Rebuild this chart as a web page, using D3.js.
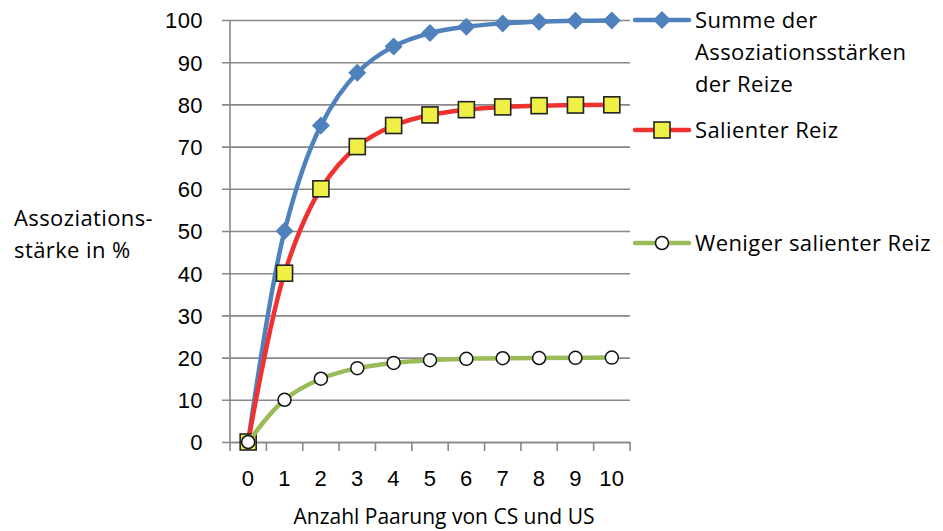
<!DOCTYPE html>
<html>
<head>
<meta charset="utf-8">
<script src="https://cdn.jsdelivr.net/npm/d3@7"></script>
<style>
  html, body { margin: 0; padding: 0; background: #fff; }
  svg { display: block; font-family: "Open Sans", Lato, sans-serif; letter-spacing: 0.4px; }
</style>
</head>
<body>
<svg id="chart" width="943" height="531"></svg>
<script>
// Number of CS–US pairings
const pairings = [0, 1, 2, 3, 4, 5, 6, 7, 8, 9, 10];
// Associative strength in % per series
const summeValues   = [0, 50, 75, 87.5, 93.75, 96.9, 98.4, 99.2, 99.6, 99.8, 99.9];
const salientValues = [0, 40, 60, 70, 75, 77.5, 78.75, 79.4, 79.7, 79.85, 79.9];
const wenigerValues = [0, 10, 15, 17.5, 18.75, 19.4, 19.7, 19.85, 19.9, 19.95, 20];
const yTicks = [0, 10, 20, 30, 40, 50, 60, 70, 80, 90, 100];
const seriesNames = ["Summe der Assoziationsstärken der Reize", "Salienter Reiz", "Weniger salienter Reiz"];

const FONT = 22;

const series = [
  { name: seriesNames[0], values: summeValues,   color: "#4F81BD", marker: "diamond" },
  { name: seriesNames[1], values: salientValues, color: "#F0312F", marker: "square" },
  { name: seriesNames[2], values: wenigerValues, color: "#9BBB59", marker: "circle" }
];

const svg = d3.select("#chart");
const plot = { left: 230, right: 630, top: 20, bottom: 442 };

const x = d3.scaleBand().domain(pairings).range([plot.left, plot.right]);
const y = d3.scaleLinear().domain([0, 100]).range([plot.bottom, plot.top]);
const cx = d => x(d) + x.bandwidth() / 2;

// horizontal gridlines with outside ticks
const yAxis = d3.axisLeft(y).tickValues(yTicks).tickSize(-(plot.right - plot.left)).tickPadding(27);
const gy = svg.append("g").attr("transform", `translate(${plot.left},0)`).call(yAxis);
gy.select(".domain").remove();
gy.selectAll(".tick line")
  .attr("x1", -8)
  .attr("stroke", "#888").attr("stroke-width", 1.6);
gy.selectAll(".tick text")
  .attr("font-size", FONT).attr("fill", "#000").attr("dy", "0.36em");

// vertical axis line
svg.append("line")
  .attr("x1", plot.left).attr("x2", plot.left)
  .attr("y1", plot.top).attr("y2", plot.bottom)
  .attr("stroke", "#888").attr("stroke-width", 1.6);

// category axis
const xAxis = d3.axisBottom(x).tickSize(0).tickPadding(36);
const gx = svg.append("g").attr("transform", `translate(0,${plot.bottom})`).call(xAxis);
gx.select(".domain").attr("stroke", "#888").attr("stroke-width", 1.6);
gx.selectAll(".tick text").attr("font-size", FONT).attr("fill", "#000").attr("dy", "0.36em");
// tick marks between categories
const boundaries = d3.range(pairings.length + 1).map(i => plot.left + i * x.step());
svg.append("g").selectAll("line").data(boundaries).join("line")
  .attr("x1", d => d).attr("x2", d => d)
  .attr("y1", plot.bottom).attr("y2", plot.bottom + 9)
  .attr("stroke", "#888").attr("stroke-width", 1.6);

// axis titles
svg.append("text")
  .attr("x", 444).attr("y", 524)
  .attr("text-anchor", "middle").attr("font-size", 21)
  .style("letter-spacing", "0px")
  .text("Anzahl Paarung von CS und US");
const yt = svg.append("text").attr("font-size", FONT);
yt.append("tspan").attr("x", 14).attr("y", 218).attr("dy", "0.36em").text("Assoziations-");
yt.append("tspan").attr("x", 14).attr("y", 250).attr("dy", "0.36em").text("stärke in %");

// marker drawing
function drawMarker(g, type, color) {
  if (type === "diamond") {
    g.append("path").attr("d", "M0,-9L9,0L0,9L-9,0Z").attr("fill", color);
  } else if (type === "square") {
    g.append("rect").attr("x", -8).attr("y", -8).attr("width", 16).attr("height", 16)
      .attr("fill", "#EFEF45").attr("stroke", "#222").attr("stroke-width", 1.6);
  } else {
    g.append("circle").attr("r", 6.5).attr("fill", "#fff").attr("stroke", "#111").attr("stroke-width", 1.5);
  }
}

const line = d3.line()
  .x((d, i) => cx(pairings[i]))
  .y(d => y(d))
  .curve(d3.curveCatmullRom.alpha(0.5));

series.forEach(s => {
  const g = svg.append("g");
  g.append("path").datum(s.values)
    .attr("d", line).attr("fill", "none")
    .attr("stroke", s.color).attr("stroke-width", 4.5)
    .attr("stroke-linejoin", "round").attr("stroke-linecap", "round");
  s.values.forEach((v, i) => {
    const m = g.append("g").attr("transform", `translate(${cx(pairings[i])},${y(v)})`);
    drawMarker(m, s.marker, s.color);
  });
});

// legend
const legendY = [20, 130, 243];
const legendText = [["Summe der", "Assoziationsstärken", "der Reize"], ["Salienter Reiz"], ["Weniger salienter Reiz"]];
series.forEach((s, i) => {
  const g = svg.append("g").attr("transform", `translate(0,${legendY[i]})`);
  g.append("line").attr("x1", 635).attr("x2", 689).attr("y1", 0).attr("y2", 0)
    .attr("stroke", s.color).attr("stroke-width", 4.5).attr("stroke-linecap", "round");
  const m = g.append("g").attr("transform", "translate(662,0)");
  drawMarker(m, s.marker, s.color);
  const t = g.append("text").attr("font-size", FONT).attr("fill", "#000");
  legendText[i].forEach((ln, j) => {
    t.append("tspan").attr("x", 695).attr("y", j * 32).attr("dy", "0.36em").text(ln);
  });
});
</script>
</body>
</html>
